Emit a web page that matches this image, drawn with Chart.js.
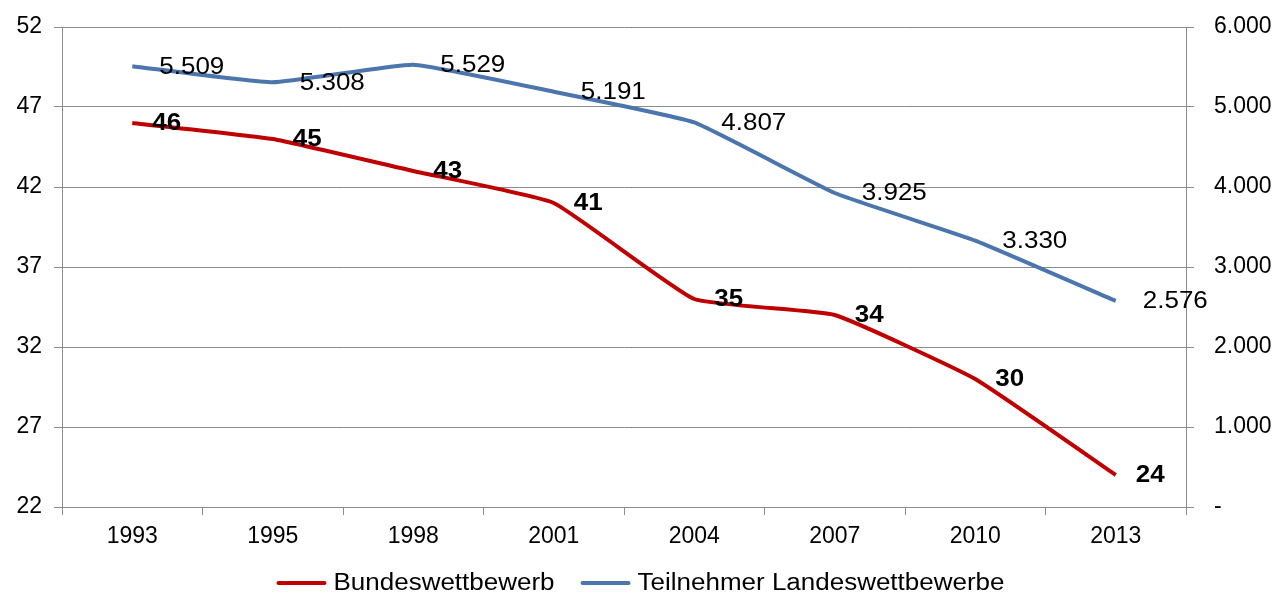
<!DOCTYPE html>
<html>
<head>
<meta charset="utf-8">
<script src="https://cdn.jsdelivr.net/npm/chart.js@4"></script>
<style>
  html, body { margin: 0; padding: 0; background: #fff; }
  #wrap { width: 1281px; height: 597px; position: relative; }
</style>
</head>
<body>
<div id="wrap"><canvas id="chart"></canvas></div>
<script>
// data
const years = ['1993', '1995', '1998', '2001', '2004', '2007', '2010', '2013'];
const bundes = [46, 45, 43, 41, 35, 34, 30, 24];
const landes = [5509, 5308, 5529, 5191, 4807, 3925, 3330, 2576];
const seriesNames = ['Bundeswettbewerb', 'Teilnehmer Landeswettbewerbe'];

const RED = '#c00000';
const BLUE = '#4a76ad';
const GRID = '#8c8c8c';
const FONT = '"Liberation Sans", Arial, sans-serif';
const STRETCH = 1.13; // the original text is a bit wider than Arial

// 5509 -> "5.509"
function deNum(v) {
  return String(Math.round(v)).replace(/\B(?=(\d{3})+(?!\d))/g, '.');
}

function wideText(ctx, txt, x, y) {
  ctx.save();
  ctx.translate(x, y);
  ctx.scale(STRETCH, 1);
  ctx.fillText(txt, 0, 0);
  ctx.restore();
}

// value labels next to each point
const pointLabels = {
  id: 'pointLabels',
  afterDatasetsDraw(chart) {
    const ctx = chart.ctx;
    ctx.save();
    ctx.textBaseline = 'middle';
    ctx.textAlign = 'left';
    ctx.fillStyle = '#000';
    chart.data.datasets.forEach((ds, i) => {
      const meta = chart.getDatasetMeta(i);
      ctx.font = (i === 0 ? 'bold ' : '') + '23px ' + FONT;
      const dx = i === 0 ? 20 : 27;
      meta.data.forEach((pt, j) => {
        const txt = i === 0 ? String(ds.data[j]) : deNum(ds.data[j]);
        wideText(ctx, txt, pt.x + dx, pt.y + 1);
      });
    });
    ctx.restore();
  }
};

// legend drawn by hand so it sits where the original one does
const bottomLegend = {
  id: 'bottomLegend',
  afterDraw(chart) {
    const ctx = chart.ctx;
    ctx.save();
    ctx.font = '23px ' + FONT;
    ctx.textBaseline = 'middle';
    const sw = 50, gapText = 7, gapItem = 26;
    const items = chart.data.datasets.map(ds => ({ label: ds.label, color: ds.borderColor, w: ctx.measureText(ds.label).width * STRETCH }));
    let total = 0;
    items.forEach((it, k) => { total += sw + gapText + it.w + (k ? gapItem : 0); });
    let x = (chart.width - total) / 2;
    const y = 583;
    items.forEach(it => {
      ctx.strokeStyle = it.color;
      ctx.lineWidth = 4;
      ctx.lineCap = 'round';
      ctx.beginPath();
      ctx.moveTo(x + 2, y);
      ctx.lineTo(x + sw - 2, y);
      ctx.stroke();
      ctx.fillStyle = '#000';
      wideText(ctx, it.label, x + sw + gapText, y + 1);
      x += sw + gapText + it.w + gapItem;
    });
    ctx.restore();
  }
};

function fixY(width) {
  return (s) => {
    s.width = width;
    s.paddingTop = 0;
    s.paddingBottom = 0;
  };
}

new Chart(document.getElementById('chart'), {
  type: 'line',
  data: {
    labels: years,
    datasets: [{
      label: seriesNames[0],
      data: bundes,
      yAxisID: 'y',
      borderColor: RED,
      backgroundColor: RED,
      borderWidth: 4,
      pointRadius: 0,
      tension: 0.12
    }, {
      label: seriesNames[1],
      data: landes,
      yAxisID: 'y2',
      borderColor: BLUE,
      backgroundColor: BLUE,
      borderWidth: 4,
      pointRadius: 0,
      tension: 0.12
    }]
  },
  options: {
    responsive: true,
    maintainAspectRatio: false,
    animation: false,
    layout: { padding: { top: 27, bottom: 50, left: 0, right: 0 } },
    plugins: {
      legend: { display: false },
      tooltip: { enabled: false }
    },
    scales: {
      x: {
        offset: true,
        afterFit: (s) => { s.height = 40; },
        grid: { offset: true, drawOnChartArea: false, color: GRID, tickLength: 8 },
        border: { color: GRID },
        ticks: { color: '#000', padding: 8, font: { family: FONT, size: 23 } }
      },
      y: {
        position: 'left',
        min: 22,
        max: 52,
        afterFit: fixY(62),
        ticks: { stepSize: 5, color: '#000', padding: 12, font: { family: FONT, size: 23 } },
        grid: { color: GRID, tickLength: 8 },
        border: { color: GRID }
      },
      y2: {
        position: 'right',
        min: 0,
        max: 6000,
        afterFit: fixY(95),
        ticks: {
          stepSize: 1000,
          color: '#000',
          padding: 20,
          font: { family: FONT, size: 23 },
          callback: (v) => v === 0 ? '-' : deNum(v)
        },
        grid: { drawOnChartArea: false, color: GRID, tickLength: 8 },
        border: { color: GRID }
      }
    }
  },
  plugins: [pointLabels, bottomLegend]
});
</script>
</body>
</html>
